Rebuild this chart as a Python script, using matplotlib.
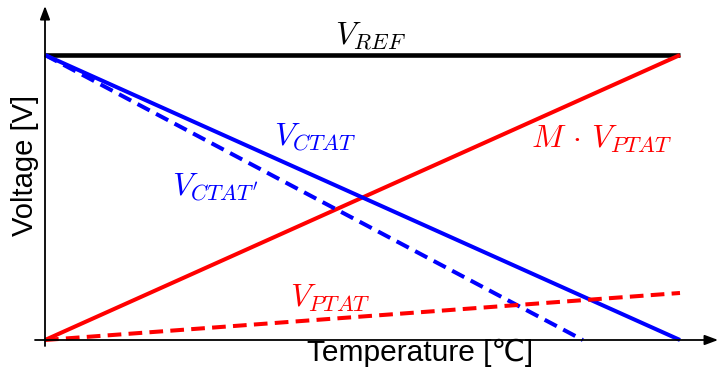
import matplotlib.pyplot as plt
import numpy as np

plt.rcParams['mathtext.fontset'] = 'cm'

# normalised temperature / voltage (0..1)
t_span = [0.0, 1.0]
v_ref = [1.0, 1.0]
v_m_ptat = [0.0, 1.0]
v_ctat = [1.0, 0.0]
t_ctat2 = [0.0, 0.847]
v_ctat2 = [1.0, 0.0]
v_ptat = [0.0, 0.165]

# pixel -> data mapping: x 45..680 -> 0..1, y 340..55 -> 0..1
W, H = 720, 374
x0, x1 = 45, 680
y0, y1 = 340, 55
sx = x1 - x0
sy = y0 - y1

fig = plt.figure(figsize=(W / 100, H / 100), dpi=100)
ax = fig.add_axes([0, 0, 1, 1])
ax.set_xlim(-x0 / sx, (W - x0) / sx)
ax.set_ylim(-(H - y0) / sy, y0 / sy)
ax.axis('off')

lw = 2.9
ax.plot(t_span, v_ref, color='black', lw=lw + 0.4, solid_capstyle='butt')
ax.plot(t_span, v_m_ptat, color='#ff0000', lw=lw, solid_capstyle='butt')
ax.plot(t_span, v_ctat, color='#0000ff', lw=lw, solid_capstyle='butt')
ax.plot(t_ctat2, v_ctat2, color='#0000ff', lw=lw, ls=(0, (3.4, 1.8)))
ax.plot(t_span, v_ptat, color='#ff0000', lw=lw, ls=(0, (3.4, 1.8)))

# axes with arrows
ax.annotate('', xy=(1.06, 0), xytext=(-10 / sx, 0),
            arrowprops=dict(arrowstyle='-|>,head_length=0.8,head_width=0.3',
                            lw=1.3, color='black', shrinkA=0, shrinkB=0))
ax.annotate('', xy=(0, 1.172), xytext=(0, -6 / sy),
            arrowprops=dict(arrowstyle='-|>,head_length=0.8,head_width=0.3',
                            lw=1.3, color='black', shrinkA=0, shrinkB=0))

fs = 23
ax.text((370 - x0) / sx, (340 - 36) / sy, r'$V_{REF}$', fontsize=fs,
        ha='center', va='center')
ax.text((315 - x0) / sx, (340 - 137) / sy, r'$V_{CTAT}$', fontsize=fs,
        color='#0000ff', ha='center', va='center')
ax.text((215 - x0) / sx, (340 - 187) / sy, r"$V_{CTAT'}$", fontsize=fs,
        color='#0000ff', ha='center', va='center')
ax.text((601 - x0) / sx, (340 - 139) / sy, r'$M\,\cdot\,V_{PTAT}$', fontsize=fs,
        color='#ff0000', ha='center', va='center')
ax.text((330 - x0) / sx, (340 - 298) / sy, r'$V_{PTAT}$', fontsize=fs,
        color='#ff0000', ha='center', va='center')

ax.text((420 - x0) / sx, (340 - 353) / sy, 'Temperature [℃]',
        fontsize=21.5, family=['Liberation Sans', 'DejaVu Sans'],
        ha='center', va='center')
ax.text((25 - x0) / sx, (340 - 165) / sy, 'Voltage [V]', fontsize=21,
        family=['Liberation Sans', 'DejaVu Sans'], rotation=90,
        ha='center', va='center')

fig.savefig('out.png', dpi=100)
